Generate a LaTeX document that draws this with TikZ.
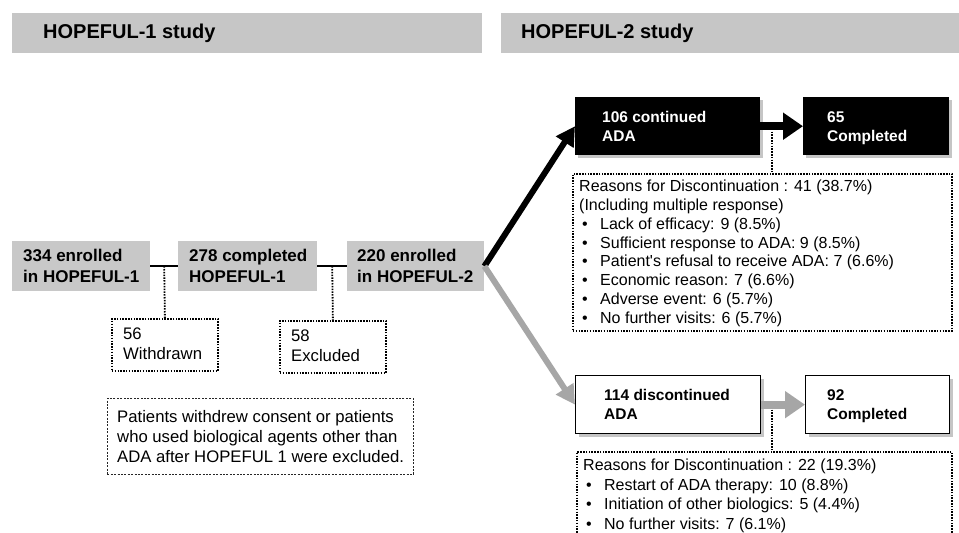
\documentclass[tikz,border=0pt]{standalone}
\usepackage{fontspec}
\setmainfont{Liberation Sans}
\usetikzlibrary{arrows.meta,shadows,calc}
\definecolor{boxgrey}{HTML}{C8C8C8}
\definecolor{bargrey}{HTML}{C6C6C6}
\definecolor{arrgrey}{HTML}{A6A6A6}
\newcommand{\mybul}{\makebox[21pt][l]{\hspace{3pt}\textbullet}}
\begin{document}
\begin{tikzpicture}[x=1pt,y=-1pt,
  bar/.style={fill=bargrey, draw=none, minimum height=40pt, inner sep=0pt, anchor=north west},
  hdr/.style={font=\fontsize{20}{24}\selectfont\bfseries, inner sep=0pt, anchor=west},
  greybox/.style={fill=boxgrey, draw=none, minimum height=50pt, inner sep=0pt, anchor=north west},
  darkbox/.style={fill=black, draw=none, minimum height=58pt, inner sep=0pt, anchor=north west,
    drop shadow={shadow xshift=3pt, shadow yshift=-3pt, opacity=0.45}},
  lightbox/.style={fill=white, draw=black, line width=1.3pt, minimum height=58pt, inner sep=0pt, anchor=north west,
    drop shadow={shadow xshift=3pt, shadow yshift=-3pt, opacity=0.45}},
  dotbox/.style={draw=black, line width=1.8pt, dash pattern=on 1.5pt off 1.3pt, inner sep=0pt, anchor=north west},
  notebox/.style={draw=black!85, line width=0.8pt, dash pattern=on 2pt off 1.4pt, inner sep=0pt, anchor=north west},
  dotline/.style={draw=black, line width=1.8pt, dash pattern=on 1.5pt off 1.3pt},
  conn/.style={draw=black, line width=2pt},
  txtL/.style={font=\fontsize{17}{20.7}\selectfont\bfseries, align=left, inner sep=0pt, anchor=west},
  txtR/.style={font=\fontsize{15.5}{19}\selectfont\bfseries, align=left, inner sep=0pt, anchor=west},
  txtS/.style={font=\fontsize{16.7}{20}\selectfont, align=left, inner sep=0pt, anchor=west},
  txtN/.style={font=\fontsize{16}{18.8}\selectfont, align=left, inner sep=0pt, anchor=north west},
  txtM/.style={font=\fontsize{16}{19.5}\selectfont, align=left, inner sep=0pt, anchor=north west},
  bigarrow/.style={line width=6pt, -{Triangle[length=19pt,width=20pt]}},
  sidearrow/.style={line width=8pt, -{Triangle[length=20pt,width=26pt]}}
]
\clip (0,0) rectangle (959,533);
\fill[white] (0,0) rectangle (959,533);

% headers
\node[bar, minimum width=470pt] (h1) at (12,13) {};
\node[hdr] (h1t) at ([xshift=31pt]h1.west) {HOPEFUL-1 study};
\node[bar, minimum width=460pt] (h2) at (501,13) {};
\node[hdr] (h2t) at ([xshift=20pt]h2.west) {HOPEFUL-2 study};

% HOPEFUL-1 chain
\node[greybox, minimum width=138pt] (b334) at (12,241) {};
\node[txtL] (t334) at ([xshift=11pt]b334.west) {334 enrolled\\in HOPEFUL-1};
\node[greybox, minimum width=139pt] (b278) at (178,241) {};
\node[txtL] (t278) at ([xshift=11pt]b278.west) {278 completed\\HOPEFUL-1};
\node[greybox, minimum width=137pt] (b220) at (347,241) {};
\node[txtL] (t220) at ([xshift=10pt]b220.west) {220 enrolled\\in HOPEFUL-2};

\draw[conn] (b334.east) -- (b278.west);
\draw[conn] (b278.east) -- (b220.west);
\coordinate (m1) at ($(b334.east)!0.5!(b278.west)$);
\coordinate (m2) at ($(b278.east)!0.5!(b220.west)$);

\node[dotbox, minimum width=106pt, minimum height=52pt] (w56) at (111,318) {};
\node[txtS] (t56) at ([xshift=12pt,yshift=-1pt]w56.west) {\strut 56\\\strut Withdrawn};
\node[dotbox, minimum width=106pt, minimum height=52pt] (e58) at (279,320) {};
\node[txtS] (t58) at ([xshift=12pt,yshift=-1pt]e58.west) {\strut 58\\\strut Excluded};
\draw[dotline] (m1) -- (w56.north);
\draw[dotline] (m2) -- (e58.north);

\node[notebox, minimum width=306pt, minimum height=76pt] (note) at (107,398) {};
\node[txtS] (tnote) at ([xshift=10pt]note.west) {Patients withdrew consent or patients\\who used biological agents other than\\ADA after HOPEFUL 1 were excluded.};

% HOPEFUL-2 boxes
\node[darkbox, minimum width=185pt] (b106) at (575,97) {};
\node[txtR, text=white] (t106) at ([xshift=27pt,yshift=-1.5pt]b106.west) {\strut 106 continued\\\strut ADA};
\node[darkbox, minimum width=146pt] (b65) at (803,97) {};
\node[txtR, text=white] (t65) at ([xshift=24pt,yshift=-1.5pt]b65.west) {\strut 65\\\strut Completed};

\node[lightbox, minimum width=185pt] (b114) at (575,375) {};
\node[txtR] (t114) at ([xshift=29pt,yshift=-1.5pt]b114.west) {\strut 114 discontinued\\\strut ADA};
\node[lightbox, minimum width=144pt] (b92) at (805,375) {};
\node[txtR] (t92) at ([xshift=22pt,yshift=-1.5pt]b92.west) {\strut 92\\\strut Completed};

% reasons boxes
\node[dotbox, minimum width=379pt, minimum height=157pt] (r1) at (572,173) {};
\node[txtN] (r1t) at (579,180) {Reasons for Discontinuation : 41 (38.7\%)\\
(Including multiple response)\\
\mybul Lack of efficacy: 9 (8.5\%)\\
\mybul Sufficient response to ADA: 9 (8.5\%)\\
\mybul Patient\textquotesingle s refusal to receive ADA: 7 (6.6\%)\\
\mybul Economic reason: 7 (6.6\%)\\
\mybul Adverse event: 6 (5.7\%)\\
\mybul No further visits: 6 (5.7\%)};

\node[dotbox, minimum width=375pt, minimum height=120pt] (r2) at (576,451) {};
\node[txtM] (r2t) at (583,459) {Reasons for Discontinuation : 22 (19.3\%)\\
\mybul Restart of ADA therapy: 10 (8.8\%)\\
\mybul Initiation of other biologics: 5 (4.4\%)\\
\mybul No further visits: 7 (6.1\%)};

% dotted drops from the side arrows
\coordinate (d1) at (772,126);
\coordinate (d2) at (772,404);
\draw[dotline] (d1) -- (d1 |- r1.north);
\draw[dotline] (d2) -- (d2 |- r2.north);

% arrows
\draw[bigarrow, draw=black, fill=black] (b220.east) -- (b106.west);
\draw[bigarrow, draw=arrgrey, fill=arrgrey] (b220.east) -- (b114.west);
\draw[sidearrow, draw=black, fill=black] (b106.east) -- (b65.west);
\draw[sidearrow, draw=arrgrey, fill=arrgrey] (b114.east) -- (b92.west);
\end{tikzpicture}
\end{document}
